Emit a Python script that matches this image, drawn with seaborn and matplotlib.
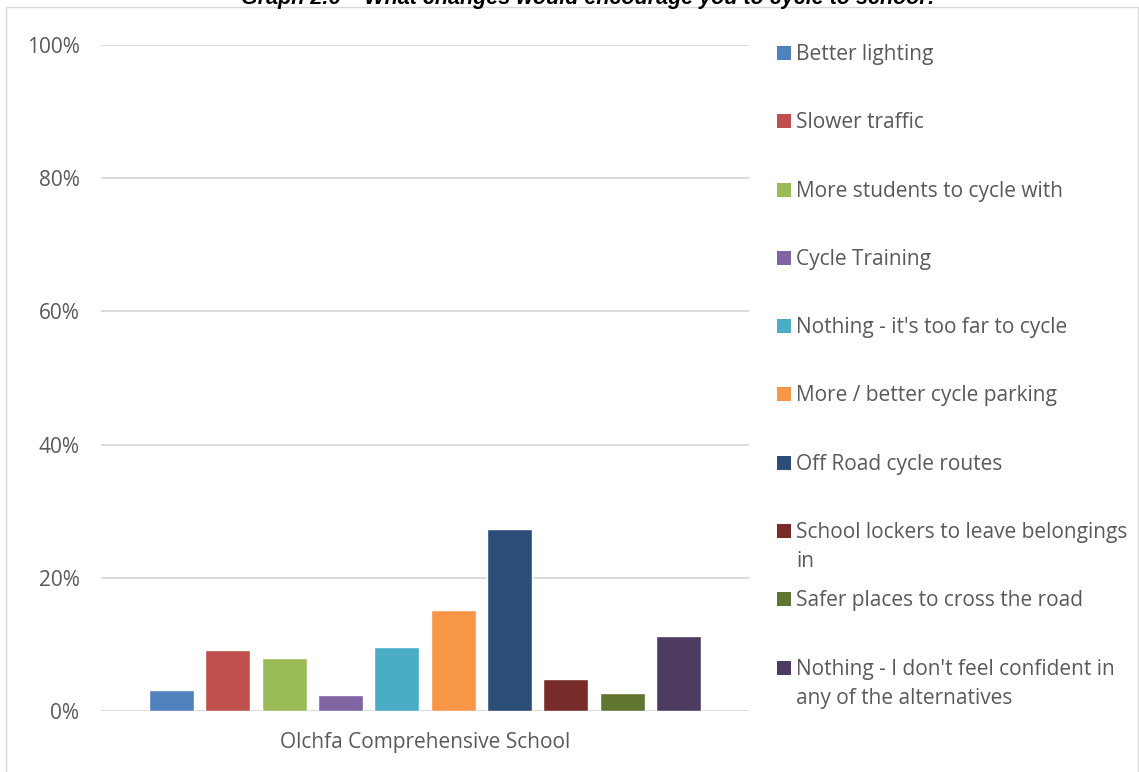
import matplotlib
matplotlib.use("Agg")
import matplotlib.pyplot as plt
from matplotlib.patches import Rectangle
import seaborn as sns
import pandas as pd
import numpy as np

# ---- data ----
school = "Olchfa Comprehensive School"
options = [
    "Better lighting",
    "Slower traffic",
    "More students to cycle with",
    "Cycle Training",
    "Nothing - it's too far to cycle",
    "More / better cycle parking",
    "Off Road cycle routes",
    "School lockers to leave belongings\nin",
    "Safer places to cross the road",
    "Nothing - I don't feel confident in\nany of the alternatives",
]
values = [3.2, 9.2, 8.0, 2.4, 9.6, 15.1, 27.4, 4.8, 2.7, 11.2]  # percent
colors = ["#4F81BD", "#C0504D", "#9BBB59", "#8064A2", "#4BACC6",
          "#F79646", "#2C4D75", "#772C2A", "#5F7530", "#4D3B62"]
yticks = [0, 20, 40, 60, 80, 100]
ytick_labels = ["0%", "20%", "40%", "60%", "80%", "100%"]
title = "Graph 2.6 \u2013 What changes would encourage you to cycle to school?"

df = pd.DataFrame({"school": [school] * len(options),
                   "option": options,
                   "value": values})

sns.set_style("white")
plt.rcParams["font.family"] = ["Open Sans", "DejaVu Sans"]
TXT = "#595959"
GRID = "#D9D9D9"
FS = 15

W, H = 1139, 772
fig = plt.figure(figsize=(W / 100, H / 100), dpi=100)
ax = fig.add_axes([101 / W, 1 - 711 / H, (749 - 101) / W, (711 - 45) / H])

sns.barplot(data=df, x="school", y="value", hue="option", hue_order=options,
            palette=colors, saturation=1, width=0.869, gap=0.2,
            legend=False, ax=ax, zorder=3)

ax.set_xlim(-0.5, 0.5)
ax.set_ylim(0, 100)
ax.set_yticks(yticks)
ax.set_yticklabels(ytick_labels)
ax.set_xlabel("")
ax.set_ylabel("")
for s in ax.spines.values():
    s.set_visible(False)
ax.grid(axis="y", color=GRID, linewidth=1.3, zorder=0)
ax.grid(axis="x", visible=False)
ax.tick_params(axis="both", length=0, labelsize=FS, labelcolor=TXT)
ax.tick_params(axis="y", pad=15.5)
ax.tick_params(axis="x", pad=15)
ax.set_axisbelow(True)

# outer chart frame
fig.add_artist(Rectangle((6 / W, -0.01), (1138 - 6) / W, 1.01 - 7 / H,
                         transform=fig.transFigure, fill=False,
                         edgecolor=GRID, linewidth=1.0))

# title (partially cut at top, as in the source)
fig.text(590 / W, 1 - 4 / H, title, ha="center", va="baseline",
         fontsize=15.5, fontweight="bold", fontstyle="italic",
         family=["Liberation Sans", "DejaVu Sans"], color="black")

# legend drawn entry by entry (marker aligned with the first text line)
step = 68.3
line_gap = 29
for i, (lab, col) in enumerate(zip(options, colors)):
    base = 60 + step * i
    fig.add_artist(Rectangle((777 / W, 1 - base / H), 14 / W, 14 / H,
                             transform=fig.transFigure, facecolor=col,
                             edgecolor="none"))
    for k, line in enumerate(lab.split("\n")):
        fig.text(796 / W, 1 - (base + k * line_gap) / H, line,
                 ha="left", va="baseline", fontsize=FS, color=TXT)

fig.savefig("out.png", dpi=100)
